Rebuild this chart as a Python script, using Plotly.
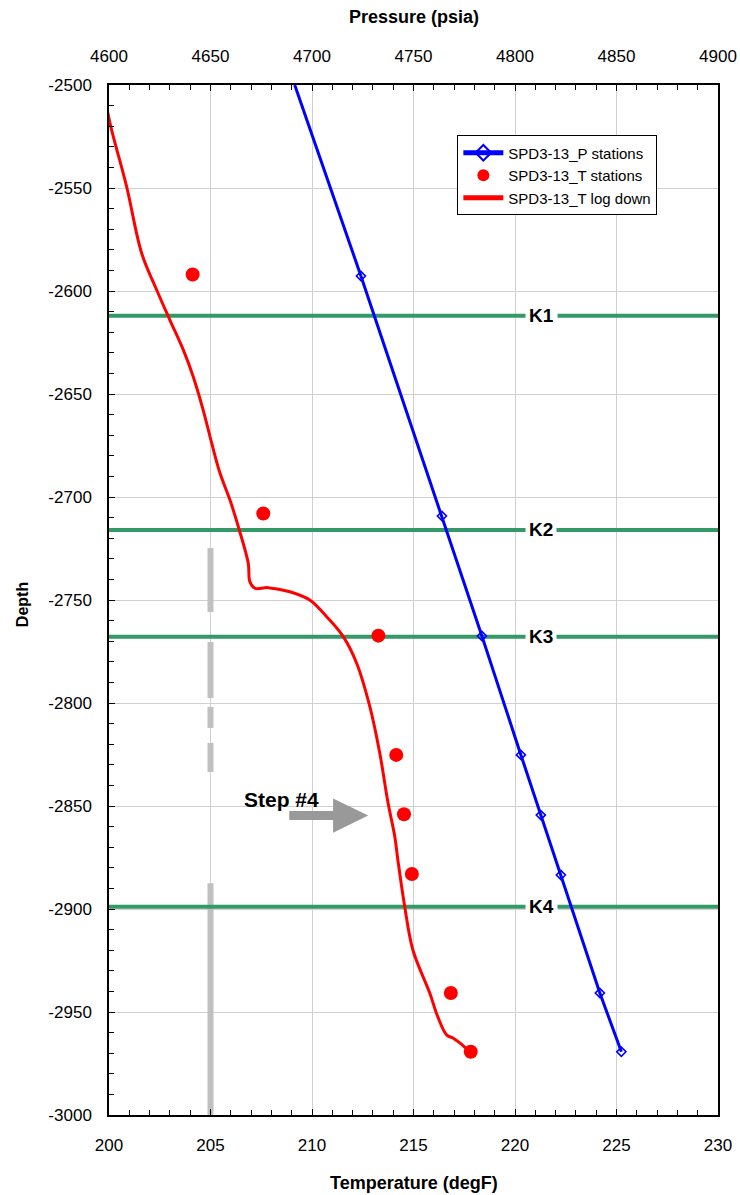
import plotly.graph_objects as go

# ---------------- data ----------------
# Pressure stations (top axis, psia) vs depth
p_depth = [-2592.7, -2709.2, -2767.5, -2825.2, -2854.4, -2883.5, -2940.8, -2969.3]
p_psia = [4724.1, 4764.0, 4783.7, 4802.9, 4812.7, 4822.6, 4841.8, 4852.4]
# gradient line extension to top of chart
p_ext_depth = [-2500.0, -2592.7]
p_ext_psia = [4691.5, 4724.1]

# Temperature stations (bottom axis, degF)
t_depth = [-2592.0, -2708.0, -2767.3, -2825.2, -2854.0, -2883.0, -2940.8, -2969.3]
t_degf = [204.12, 207.60, 213.27, 214.15, 214.53, 214.92, 216.84, 217.82]

# Temperature log down
log_degf = [199.69, 200.05, 200.87, 201.61, 202.35, 203.00, 203.66, 204.15, 204.64,
            205.06, 205.47, 205.96, 206.37, 206.86, 206.94, 207.19, 207.84, 208.91,
            209.89, 210.72, 211.54, 212.20, 212.85, 213.34, 213.75, 214.08, 214.23,
            214.57, 214.97, 215.80, 216.20, 216.64, 216.94, 217.28, 217.68, 217.82]
log_depth = [-2500.0, -2518.6, -2549.4, -2581.7, -2599.5, -2614.1, -2628.6, -2641.6, -2657.8,
             -2673.9, -2688.5, -2701.5, -2714.4, -2732.2, -2741.1, -2744.3, -2744.0, -2746.0,
             -2750.0, -2758.1, -2767.8, -2780.7, -2801.8, -2824.4, -2848.7, -2864.9, -2876.2,
             -2899.0, -2919.9, -2940.8, -2952.4, -2961.2, -2962.6, -2965.0, -2968.4, -2969.4]

# Gray marker line at 205 degF (segments separated by None)
gray_degf = [205, 205, None, 205, 205, None, 205, 205, None, 205, 205, None, 205, 205]
gray_depth = [-2724.8, -2755.8, None, -2770.4, -2797.6, None, -2801.9, -2812.1, None,
              -2819.4, -2833.5, None, -2887.5, -3000.0]

# Formation tops
k_names = ["K1", "K2", "K3", "K4"]
k_depth = [-2612.0, -2716.0, -2767.8, -2898.9]
k_label_degf = 221.3

# Axes ticks
temp_ticks = [200, 205, 210, 215, 220, 225, 230]
press_ticks = [4600, 4650, 4700, 4750, 4800, 4850, 4900]
depth_ticks = [-3000, -2950, -2900, -2850, -2800, -2750, -2700, -2650, -2600, -2550, -2500]

# Step #4 arrow geometry (degF, depth)
arrow_x = [208.88, 211.04, 211.04, 212.77, 211.04, 211.04, 208.88]
arrow_y = [-2852.4, -2852.4, -2846.3, -2854.6, -2863.0, -2856.8, -2856.8]

FONT = "Liberation Sans, Arial, sans-serif"

fig = go.Figure()

# gray line
fig.add_trace(go.Scatter(x=gray_degf, y=gray_depth, mode="lines",
                         line=dict(color="#c0c0c0", width=6),
                         showlegend=False, hoverinfo="skip", connectgaps=False))

# formation top lines
for name, d in zip(k_names, k_depth):
    fig.add_trace(go.Scatter(x=[temp_ticks[0], temp_ticks[-1]], y=[d, d], mode="lines",
                             line=dict(color="#339966", width=4),
                             showlegend=False, hoverinfo="skip"))

# pressure line extension
fig.add_trace(go.Scatter(x=p_ext_psia, y=p_ext_depth, mode="lines", xaxis="x2",
                         line=dict(color="#0000ff", width=3),
                         showlegend=False, hoverinfo="skip"))
# pressure stations
fig.add_trace(go.Scatter(x=p_psia, y=p_depth, mode="lines+markers", xaxis="x2",
                         name="SPD3-13_P stations", legendrank=1,
                         line=dict(color="#0000ff", width=3),
                         marker=dict(symbol="diamond-open", size=7, color="#0000ff",
                                     line=dict(width=1.6, color="#0000ff"))))
# temperature log
fig.add_trace(go.Scatter(x=log_degf, y=log_depth, mode="lines",
                         name="SPD3-13_T log down", legendrank=3,
                         line=dict(color="#ff0000", width=3, shape="spline", smoothing=1.0)))
# temperature stations
fig.add_trace(go.Scatter(x=t_degf, y=t_depth, mode="markers",
                         name="SPD3-13_T stations", legendrank=2,
                         marker=dict(symbol="circle", size=14, color="#ff0000")))

annotations = []
for name, d in zip(k_names, k_depth):
    annotations.append(dict(x=k_label_degf, y=d, xref="x", yref="y", text=name,
                            showarrow=False, bgcolor="white", borderpad=3,
                            font=dict(family=FONT, size=19, color="black", weight="bold")))

annotations.append(dict(x=208.5, y=-2847, xref="x", yref="y", text="Step #4",
                        showarrow=False, font=dict(family=FONT, size=21, color="black", weight="bold")))

annotations.append(dict(x=0.5, y=1, xref="paper", yref="paper", text="Pressure (psia)",
                        showarrow=False, yanchor="middle", yshift=68,
                        font=dict(family=FONT, size=18, color="black", weight="bold")))
annotations.append(dict(x=0.5, y=0, xref="paper", yref="paper", text="Temperature (degF)",
                        showarrow=False, yanchor="middle", yshift=-68,
                        font=dict(family=FONT, size=18, color="black", weight="bold")))
annotations.append(dict(x=0, y=0.495, xref="paper", yref="paper", text="Depth",
                        showarrow=False, xanchor="center", xshift=-87, textangle=-90,
                        font=dict(family=FONT, size=16, color="black", weight="bold")))

path = "M " + " L ".join(f"{x},{y}" for x, y in zip(arrow_x, arrow_y)) + " Z"
shapes = [dict(type="path", path=path, xref="x", yref="y",
               fillcolor="#999999", line=dict(width=0), layer="above")]

fig.update_layout(
    width=740, height=1195,
    margin=dict(l=109, r=22, t=85, b=80, autoexpand=False),
    paper_bgcolor="white", plot_bgcolor="white",
    font=dict(family=FONT, size=17, color="black"),
    showlegend=True,
    legend=dict(x=0.572, y=0.951, xanchor="left", yanchor="top",
                bgcolor="white", bordercolor="black", borderwidth=1,
                font=dict(family=FONT, size=15, color="black"),
                itemwidth=40, itemsizing="constant", tracegroupgap=0),
    annotations=annotations,
    shapes=shapes,
    xaxis=dict(range=[temp_ticks[0], temp_ticks[-1]], tickvals=temp_ticks,
               ticktext=[str(v) for v in temp_ticks], automargin=False,
               showgrid=True, gridcolor="#d0d0d0", gridwidth=1, zeroline=False,
               showline=True, linecolor="black", linewidth=1.5,
               ticks="inside", ticklen=6, tickcolor="black",
               minor=dict(dtick=1, tick0=200, ticks="inside", ticklen=5, tickcolor="black", showgrid=False),
               tickfont=dict(size=17), ticklabelstandoff=14),
    xaxis2=dict(range=[press_ticks[0], press_ticks[-1]], tickvals=press_ticks,
                ticktext=[str(v) for v in press_ticks], automargin=False,
                overlaying="x", side="top", anchor="y",
                showgrid=False, zeroline=False,
                showline=True, linecolor="black", linewidth=1.5,
                ticks="inside", ticklen=6, tickcolor="black",
                minor=dict(dtick=10, tick0=4600, ticks="inside", ticklen=5, tickcolor="black", showgrid=False),
                tickfont=dict(size=17), ticklabelstandoff=14),
    yaxis=dict(range=[-3000, -2500], tickvals=depth_ticks,
               ticktext=[str(v) for v in depth_ticks], automargin=False,
               showgrid=True, gridcolor="#d0d0d0", gridwidth=1, zeroline=False,
               showline=True, linecolor="black", linewidth=1.5, mirror=True,
               ticks="inside", ticklen=6, tickcolor="black",
               minor=dict(dtick=10, tick0=-3000, ticks="inside", ticklen=5, tickcolor="black", showgrid=False),
               tickfont=dict(size=17), ticklabelstandoff=12),
)

fig.write_html("out.html")
